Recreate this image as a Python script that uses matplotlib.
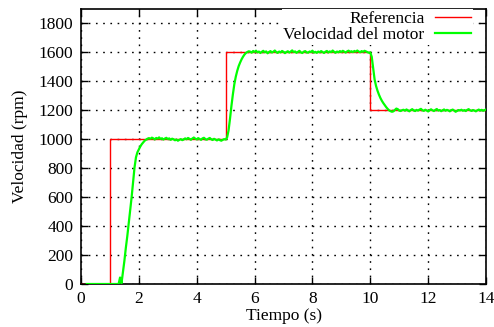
import numpy as np
import matplotlib
matplotlib.use("Agg")
import matplotlib.pyplot as plt

plt.rcParams['font.family'] = ['Liberation Serif', 'DejaVu Serif']

# Reference speed (step changes)
ref_t = [0, 1, 5, 10, 14]
ref_v = [0, 1000, 1600, 1200, 1200]

# Measured motor speed, sampled every 0.05 s starting at t = 0.20 s
t0, dt = 0.20, 0.05
speed_off = [0] * 23                                     # 0.20 .. 1.30
speed_rise1 = [45, 5, 80, 160, 250, 330, 420, 510, 600, 705,
               805, 875, 910, 930, 950, 966, 978, 990, 997, 1004]   # 1.35 .. 2.30
speed_1000 = [1008, 1003, 1011, 1006, 999, 1009, 1004, 1013, 1002, 1007,
              998, 1005, 1010, 1001, 1006, 996, 1004, 1000, 993, 998,
              990, 996, 1001, 994, 999, 1006, 1000, 1009, 1003, 997,
              1005, 1012, 1004, 999, 1008, 1002, 996, 1006, 1010, 1001,
              997, 1004, 1009, 1000, 995, 1003, 998, 992, 999, 994,
              990, 996, 1001]                                        # 2.35 .. 4.95
speed_rise2 = [998, 1012, 1060, 1140, 1230, 1310, 1380, 1432, 1472, 1505,
               1530, 1552, 1570, 1585, 1596, 1603, 1608]             # 5.00 .. 5.80
speed_1600 = [1605, 1598, 1610, 1603, 1612, 1600, 1606, 1596, 1604, 1611,
              1601, 1607, 1594, 1603, 1609, 1599, 1605, 1613, 1602, 1597,
              1606, 1600, 1610, 1604, 1595, 1603, 1608, 1599, 1606, 1614,
              1602, 1607, 1597, 1604, 1611, 1600, 1596, 1605, 1609, 1601,
              1598, 1606, 1603, 1612, 1599, 1604, 1597, 1606, 1601, 1609,
              1603, 1596, 1605, 1610, 1600, 1607, 1602, 1613, 1604, 1598,
              1606, 1601, 1609, 1603, 1611, 1605, 1599, 1607, 1612, 1604,
              1608, 1602, 1610, 1605, 1613, 1606, 1601, 1609, 1604, 1611,
              1607, 1602, 1598]                                      # 5.85 .. 9.95
speed_fall = [1600, 1570, 1490, 1412, 1368, 1335, 1308, 1285, 1266, 1250,
              1236, 1222, 1210, 1200, 1194, 1190, 1193, 1202, 1212, 1208,
              1198, 1195, 1201]                                      # 10.00 .. 11.10
speed_1200 = [1204, 1197, 1206, 1200, 1193, 1202, 1208, 1199, 1195, 1203,
              1198, 1205, 1210, 1201, 1196, 1204, 1199, 1192, 1201, 1207,
              1200, 1195, 1203, 1209, 1198, 1202, 1194, 1200, 1206, 1197,
              1203, 1199, 1193, 1201, 1205, 1198, 1190, 1196, 1202, 1199,
              1204, 1197, 1201, 1195, 1203, 1208, 1200, 1196, 1202, 1198,
              1193, 1200, 1205, 1199, 1203, 1197, 1201, 1206]        # 11.15 .. 14.00

speed = np.array(speed_off + speed_rise1 + speed_1000 + speed_rise2
                 + speed_1600 + speed_fall + speed_1200, dtype=float)
t = t0 + dt * np.arange(len(speed))

fs = 12.5
fig = plt.figure(figsize=(4.94, 3.27), dpi=100)
ax = fig.add_axes([81 / 494, 1 - 284 / 327, 405 / 494, 275 / 327])

ax.plot(ref_t, ref_v, color='#ff0000', lw=1.0, drawstyle='steps-post',
        label='Referencia', zorder=3)
ax.plot(t, speed, color='#00ff00', lw=1.6, label='Velocidad del motor', zorder=4)

ax.set_xlim(0, 14)
ax.set_ylim(0, 1900)
ax.set_xticks(range(0, 15, 2))
ax.set_yticks(range(0, 1801, 200))
ax.grid(True, color='black', linestyle=(0, (1.2, 4)), linewidth=1.0)
ax.set_axisbelow(True)
ax.tick_params(direction='in', top=True, right=True, length=5, width=1,
               labelsize=fs)
ax.tick_params(axis='y', pad=5.5)
ax.tick_params(axis='x', pad=5)
for s in ax.spines.values():
    s.set_linewidth(1.2)

ax.set_xlabel('Tiempo (s)', fontsize=fs, labelpad=1)
ax.set_ylabel('Velocidad (rpm)', fontsize=fs, labelpad=8)

leg = ax.legend(loc='upper right', bbox_to_anchor=(0.968, 1.0),
                markerfirst=False, frameon=True, fontsize=fs,
                handlelength=2.1, borderaxespad=0.0, borderpad=0.1,
                labelspacing=0.0, handletextpad=0.6,
                fancybox=False, framealpha=1.0)
leg.get_frame().set_edgecolor('none')
leg.get_frame().set_facecolor('white')
for txt in leg.get_texts():
    txt.set_ha('right')

fig.savefig('out.png', dpi=100)
